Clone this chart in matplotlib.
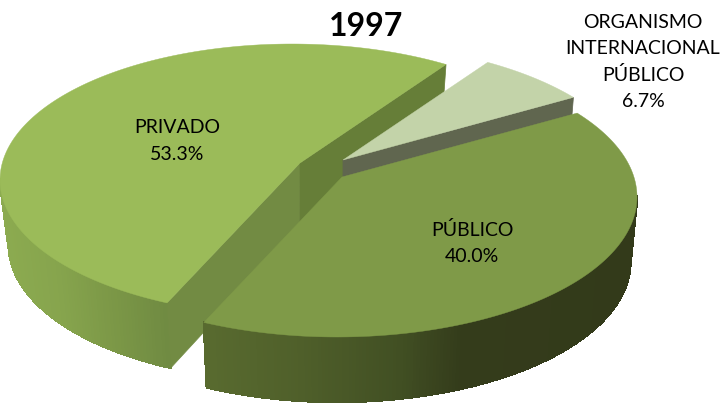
import numpy as np
import matplotlib
matplotlib.use('Agg')
import matplotlib.pyplot as plt
from matplotlib.collections import PolyCollection
from matplotlib.colors import to_rgb

plt.rcParams['font.family'] = ['Lato', 'DejaVu Sans']

title = "1997"
names = ["PÚBLICO", "ORGANISMO\nINTERNACIONAL\nPÚBLICO", "PRIVADO"]
shares = [40.0, 6.7, 53.3]
colors = ["#7f9a48", "#c3d3a9", "#9bbb59"]

# layout of the fake 3d pie, in pixels
start = 24.8          # angle where the first slice starts, going clockwise
squash = 1.7          # width/height of the tilted disc
depth = 65
shrink = [0.978, 0.978, 0.97]
apex = [(342, 177), (343, 160), (300, 163)]
disc = [(337, 197, 300, 140), (335, 185, 303, 142), (292, 180, 292, 136)]
label_pos = [(472, 243), (643, 62), (177, 141)]


def rim_point(i, deg):
    # ray from the slice apex out to the edge of its ellipse
    px, py = apex[i]
    cx, cy, a, b = disc[i]
    dx = squash * np.cos(np.radians(deg))
    dy = -np.sin(np.radians(deg))
    qa = (dx / a) ** 2 + (dy / b) ** 2
    qb = 2 * ((px - cx) * dx / a ** 2 + (py - cy) * dy / b ** 2)
    qc = ((px - cx) / a) ** 2 + ((py - cy) / b) ** 2 - 1
    t = (-qb + np.sqrt(qb ** 2 - 4 * qa * qc)) / (2 * qa)
    return px + t * dx, py + t * dy


def drop(i, pt):
    return disc[i][0] + (pt[0] - disc[i][0]) * shrink[i], pt[1] + depth


def side_color(x, stops):
    xs = [s[0] for s in stops]
    rgb = [to_rgb(s[1]) for s in stops]
    return tuple(np.interp(x, xs, [c[k] for c in rgb]) for k in range(3))


def draw_rim(ax, i, arc, stops):
    # only the part of the rim in front of the disc middle shows
    quads, cols = [], []
    for d1, d2 in zip(arc[:-1], arc[1:]):
        p1, p2 = rim_point(i, d1), rim_point(i, d2)
        if p1[1] < disc[i][1] and p2[1] < disc[i][1]:
            continue
        quads.append([p1, p2, drop(i, p2), drop(i, p1)])
        cols.append(side_color((p1[0] + p2[0]) / 2, stops))
    ax.add_collection(PolyCollection(quads, facecolors=cols, edgecolors=cols,
                                     linewidths=1.0, antialiaseds=False))


def draw_face(ax, i, deg, color):
    p = apex[i]
    q = rim_point(i, deg)
    ax.fill([p[0], q[0], drop(i, q)[0], drop(i, p)[0]],
            [p[1], q[1], drop(i, q)[1], drop(i, p)[1]], color=color, lw=0.5)


def draw_top(ax, i, arc):
    pts = [apex[i]] + [rim_point(i, d) for d in arc]
    ax.fill([p[0] for p in pts], [p[1] for p in pts], color=colors[i], lw=0.3)


fig = plt.figure(figsize=(7.21, 4.04), dpi=100)
ax = fig.add_axes([0, 0, 1, 1])
ax.set_xlim(0, 721)
ax.set_ylim(404, 0)
ax.axis('off')

# slice limits from the shares
sweep = np.array(shares) * 360 / sum(shares)
pub_a, pub_b = start, start - sweep[0]
org_a, org_b = start, start + sweep[1]
pri_a, pri_b = org_b, org_b + sweep[2]

pub_arc = np.linspace(pub_a, pub_b, 200)
org_arc = np.linspace(org_a, org_b, 40)
pri_arc = np.linspace(pri_a, pri_b, 260)

# back to front: privado, organismo, publico
draw_rim(ax, 2, pri_arc, [(0, "#8cab50"), (60, "#86a44d"), (110, "#7c9847"), (166, "#708b42")])
draw_face(ax, 2, pri_b, "#728b43")
draw_face(ax, 2, pri_a, "#667e38")
draw_top(ax, 2, pri_arc)

draw_face(ax, 1, org_a, "#60664f")
draw_top(ax, 1, org_arc)

draw_rim(ax, 0, pub_arc, [(210, "#586a2f"), (300, "#4f5f2a"), (400, "#414f23"), (460, "#343c1b"), (640, "#333a1a")])
draw_top(ax, 0, pub_arc)

ax.text(366, 26, title, fontsize=23, fontweight='bold', ha='center', va='center', color='black')
for i, name in enumerate(names):
    ax.text(label_pos[i][0], label_pos[i][1], f"{name}\n{shares[i]:.1f}%", fontsize=14,
            ha='center', va='center', color='black', linespacing=1.65)

fig.savefig('out.png', dpi=100)
